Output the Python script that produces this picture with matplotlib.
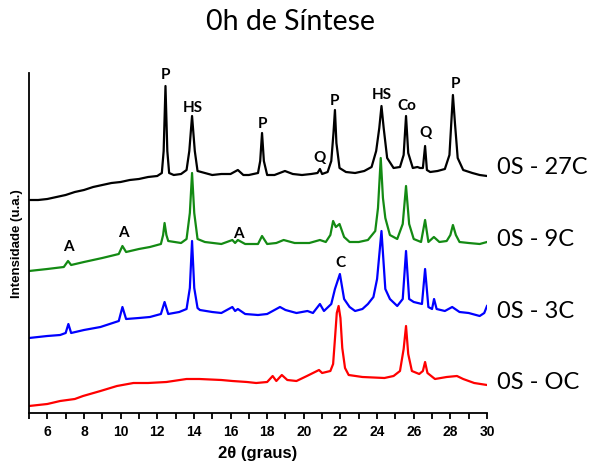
import matplotlib
matplotlib.use("Agg")
import matplotlib.pyplot as plt
from matplotlib.ticker import MultipleLocator

# XRD patterns (2theta in degrees, intensity in arbitrary units, vertically stacked)
pattern_27c = [
    (5.0, 213), (5.5, 213), (6.0, 214), (6.5, 216), (7.0, 218), (7.5, 221), (8.0, 223),
    (8.5, 226), (9.0, 228), (9.5, 230), (10.0, 231), (10.5, 233), (11.0, 234), (11.5, 236),
    (12.0, 237), (12.25, 240), (12.35, 262), (12.45, 327), (12.55, 262), (12.65, 240),
    (12.9, 238), (13.3, 239), (13.6, 243), (13.75, 262), (13.9, 297), (14.05, 262),
    (14.2, 242), (14.6, 240), (15.0, 238), (15.5, 239), (16.0, 239), (16.4, 243),
    (16.7, 238), (17.0, 238), (17.5, 240), (17.62, 252), (17.72, 280), (17.82, 252),
    (18.0, 238), (18.4, 238), (18.97, 242), (19.4, 239), (19.9, 238), (20.4, 239),
    (20.75, 240), (20.88, 244), (21.0, 239), (21.3, 241), (21.5, 252), (21.62, 280),
    (21.7, 303), (21.78, 270), (21.95, 245), (22.3, 241), (22.8, 240), (23.3, 242),
    (23.7, 246), (23.95, 262), (24.12, 285), (24.24, 307), (24.36, 285), (24.55, 255),
    (24.9, 245), (25.25, 246), (25.45, 258), (25.58, 297), (25.7, 260), (25.95, 245),
    (26.2, 246), (26.35, 245), (26.5, 245), (26.62, 267), (26.72, 243), (26.9, 241),
    (27.3, 242), (27.7, 244), (27.95, 258), (28.05, 290), (28.14, 318), (28.25, 290),
    (28.4, 255), (28.7, 243), (29.2, 240), (29.6, 238), (30.0, 237),
]

pattern_9c = [
    (5.0, 142), (6.0, 144), (6.9, 146), (7.13, 152), (7.3, 148), (8.0, 151), (9.0, 155),
    (9.9, 159), (10.1, 167), (10.3, 161), (11.0, 164), (11.6, 166), (12.2, 169),
    (12.32, 178), (12.4, 190), (12.5, 178), (12.6, 172), (13.3, 170), (13.6, 174),
    (13.78, 200), (13.9, 240), (14.02, 200), (14.2, 174), (14.6, 171), (15.5, 169),
    (16.1, 173), (16.25, 170), (16.4, 173), (16.8, 169), (17.5, 169), (17.72, 177),
    (18.0, 169), (18.5, 170), (18.9, 173), (19.5, 170), (20.3, 170), (20.88, 173),
    (21.2, 171), (21.45, 178), (21.6, 192), (21.75, 186), (21.95, 189), (22.2, 176),
    (22.5, 171), (23.0, 171), (23.5, 173), (23.9, 182), (24.05, 205), (24.2, 255),
    (24.32, 215), (24.45, 195), (24.7, 178), (25.1, 174), (25.4, 189), (25.58, 227),
    (25.75, 189), (26.0, 174), (26.4, 171), (26.62, 193), (26.8, 171), (27.1, 176),
    (27.4, 171), (27.8, 172), (28.0, 178), (28.14, 188), (28.3, 178), (28.5, 171),
    (29.0, 170), (29.6, 169), (30.0, 171),
]

pattern_3c = [
    (5.0, 75), (6.0, 77), (6.7, 78), (7.0, 80), (7.15, 89), (7.3, 80), (8.0, 83),
    (8.9, 86), (9.9, 92), (10.1, 106), (10.3, 94), (11.0, 95), (11.6, 96), (12.2, 99),
    (12.4, 111), (12.6, 99), (13.2, 101), (13.6, 104), (13.78, 125), (13.9, 172),
    (14.02, 125), (14.2, 105), (14.33, 103), (15.0, 101), (15.5, 100), (16.1, 106),
    (16.25, 102), (16.4, 104), (16.8, 99), (17.5, 98), (18.0, 99), (18.7, 106),
    (19.0, 103), (19.6, 100), (20.2, 102), (20.5, 100), (20.88, 109), (21.1, 102),
    (21.5, 109), (21.7, 124), (21.97, 139), (22.2, 114), (22.5, 106), (22.8, 102),
    (23.2, 104), (23.5, 109), (23.8, 116), (24.0, 134), (24.24, 182), (24.45, 124),
    (24.7, 114), (25.1, 107), (25.4, 114), (25.58, 162), (25.75, 114), (26.0, 111),
    (26.45, 109), (26.62, 144), (26.8, 106), (27.0, 104), (27.11, 114), (27.25, 104),
    (27.7, 102), (28.1, 106), (28.5, 101), (29.0, 100), (29.6, 97), (29.85, 100),
    (30.0, 107),
]

pattern_0c = [
    (5.0, 7), (6.0, 9), (6.7, 12), (7.5, 14), (7.95, 17), (8.9, 22), (9.8, 27),
    (10.7, 30), (11.5, 30), (12.5, 31), (13.6, 34), (14.3, 34), (15.5, 33), (16.1, 32),
    (16.9, 31), (17.4, 30), (18.0, 31), (18.3, 37), (18.5, 32), (18.8, 38), (19.1, 33),
    (19.6, 32), (20.17, 37), (20.5, 40), (20.83, 43), (21.0, 40), (21.45, 42),
    (21.6, 49), (21.7, 74), (21.8, 100), (21.9, 107), (22.0, 95), (22.1, 65),
    (22.25, 45), (22.45, 38), (23.2, 36), (24.4, 35), (24.9, 37), (25.25, 42),
    (25.45, 64), (25.58, 87), (25.7, 59), (25.9, 42), (26.3, 39), (26.5, 42),
    (26.62, 51), (26.75, 40), (27.16, 34), (27.8, 36), (28.36, 37), (28.7, 34),
    (29.3, 30), (30.0, 28),
]

series_names = ["0S - 27C", "0S - 9C", "0S - 3C", "0S - OC"]
series_colors = ["#000000", "#138a13", "#0000ff", "#ff0000"]
series_label_y = [246, 174, 102, 31]

# Phase markers: (label, 2theta, height)
peak_labels = [
    ("P", 12.45, 339), ("HS", 13.95, 306), ("P", 17.72, 290), ("Q", 20.85, 256),
    ("P", 21.7, 313), ("HS", 24.27, 319), ("Co", 25.62, 308), ("Q", 26.65, 281),
    ("P", 28.27, 330),
    ("A", 7.15, 167), ("A", 10.15, 181), ("A", 16.45, 180),
    ("C", 21.98, 151),
]

fig = plt.figure(figsize=(5.97, 4.64), dpi=100)
ax = fig.add_axes([29 / 597, 50 / 464, 458 / 597, 340 / 464])

patterns = [pattern_27c, pattern_9c, pattern_3c, pattern_0c]
for pat, color in zip(reversed(patterns), reversed(series_colors)):
    xs = [p[0] for p in pat]
    ys = [p[1] for p in pat]
    ax.plot(xs, ys, color=color, lw=1.6, solid_joinstyle="round")

ax.set_xlim(5, 30)
ax.set_ylim(0, 340)

for text, x, y in peak_labels:
    ax.text(x, y, text, ha="center", va="center", fontsize=11,
            fontweight="bold", family="Lato")

for name, y in zip(series_names, series_label_y):
    ax.text(30.55, y, name, ha="left", va="center", fontsize=17,
            family="Lato", clip_on=False)

ax.spines["top"].set_visible(False)
ax.spines["right"].set_visible(False)
ax.spines["left"].set_linewidth(1.3)
ax.spines["bottom"].set_linewidth(1.3)
ax.set_yticks([])
ax.xaxis.set_major_locator(MultipleLocator(2))
ax.xaxis.set_minor_locator(MultipleLocator(1))
ax.tick_params(axis="x", which="major", direction="out", length=4, width=1.3,
               labelsize=10, pad=4)
ax.tick_params(axis="x", which="minor", direction="out", length=4, width=1.3)
for lbl in ax.get_xticklabels():
    lbl.set_fontweight("bold")
    lbl.set_family("Liberation Sans")

ax.set_xlabel("2\u03b8 (graus)", fontsize=12, fontweight="bold",
              family="Liberation Sans", labelpad=5)
ax.set_ylabel("Intensidade (u.a.)", fontsize=9.5, fontweight="bold",
              family="Liberation Sans", labelpad=4)

fig.text(290 / 597, 1 - 22 / 464, "0h de S\u00edntese", ha="center", va="center",
         fontsize=20.5, family="Lato")

fig.savefig("out.png", dpi=100)
